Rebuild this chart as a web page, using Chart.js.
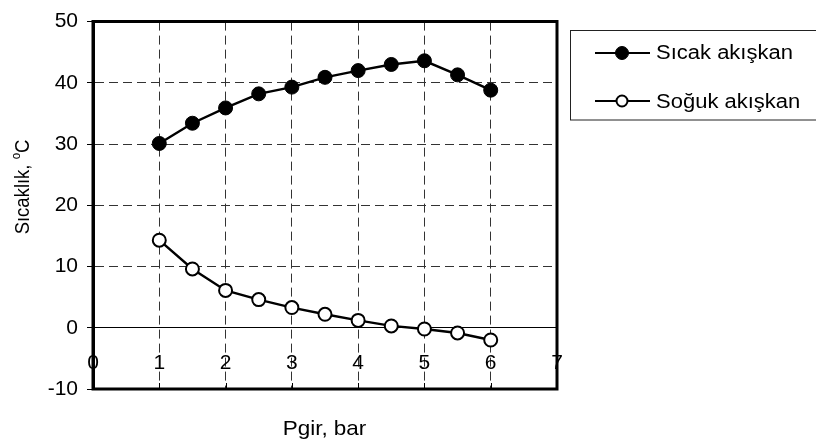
<!DOCTYPE html>
<html><head><meta charset="utf-8">
<script src="https://cdn.jsdelivr.net/npm/chart.js@4.4.0/dist/chart.umd.min.js"></script>
<style>html,body{margin:0;padding:0;background:#fff}#wrap{width:816px;height:446px;position:relative}</style>
</head><body><div id="wrap"><canvas id="c" width="816" height="446"></canvas></div>
<script>
// ---- data ----
const pressure = [1, 1.5, 2, 2.5, 3, 3.5, 4, 4.5, 5, 5.5, 6];
const hotFluid = [30.1, 33.4, 35.9, 38.2, 39.3, 40.9, 42.0, 43.0, 43.6, 41.3, 38.8];
const coldFluid = [14.3, 9.6, 6.1, 4.6, 3.3, 2.2, 1.2, 0.3, -0.2, -0.85, -2.0];
const seriesNames = ['Sıcak akışkan', 'Soğuk akışkan'];
const xTicks = [0, 1, 2, 3, 4, 5, 6, 7];
const yTicks = [-10, 0, 10, 20, 30, 40, 50];
const xTitle = 'Pgir, bar';
const yTitleMain = 'Sıcaklık, ';
const yTitleSup = 'o';
const yTitleEnd = 'C';

const FONT = '"Liberation Sans", Arial, Helvetica, sans-serif';
const STRETCH = 1.1;

const framePlugin = {
  id: 'frame',
  afterDraw(chart) {
    const ctx = chart.ctx;
    const {left, right, top, bottom} = chart.chartArea;
    const xs = chart.scales.x;
    ctx.save();
    // inward ticks on bottom border
    ctx.strokeStyle = '#000';
    ctx.lineWidth = 1;
    xTicks.forEach(v => {
      const px = Math.round(xs.getPixelForValue(v)) + 0.5;
      ctx.beginPath(); ctx.moveTo(px, bottom); ctx.lineTo(px, bottom - 6); ctx.stroke();
    });
    // frame
    ctx.lineWidth = 3;
    ctx.beginPath();
    ctx.moveTo(left, top); ctx.lineTo(right, top); ctx.lineTo(right, bottom); ctx.lineTo(left, bottom); ctx.closePath();
    ctx.stroke();

    // x title
    ctx.fillStyle = '#000';
    ctx.font = '21px ' + FONT;
    ctx.textAlign = 'center';
    ctx.textBaseline = 'alphabetic';
    ctx.save();
    ctx.translate((left + right) / 2 - 0.5, 435);
    ctx.scale(1.07, 1);
    ctx.fillText(xTitle, 0, 0);
    ctx.restore();

    // y title (rotated, with superscript o)
    ctx.save();
    ctx.translate(28.5, 187);
    ctx.rotate(-Math.PI / 2);
    ctx.scale(0.88, 1);
    ctx.textAlign = 'left';
    ctx.font = '21px ' + FONT;
    const w1 = ctx.measureText(yTitleMain).width;
    const w3 = ctx.measureText(yTitleEnd).width;
    ctx.font = '13px ' + FONT;
    const w2 = ctx.measureText(yTitleSup).width;
    const start = -(w1 + w2 + w3) / 2;
    ctx.font = '21px ' + FONT;
    ctx.fillText(yTitleMain, start, 0);
    ctx.fillText(yTitleEnd, start + w1 + w2, 0);
    ctx.font = '13px ' + FONT;
    ctx.fillText(yTitleSup, start + w1, -9);
    ctx.restore();

    // legend
    ctx.lineWidth = 1;
    ctx.strokeStyle = '#222';
    ctx.strokeRect(570.5, 30.5, 300, 89.5);
    const rows = [53, 101];
    const baselines = [59, 108];
    chart.data.datasets.forEach((ds, i) => {
      const y = rows[i];
      ctx.strokeStyle = ds.borderColor;
      ctx.lineWidth = 2.2;
      ctx.beginPath(); ctx.moveTo(595, y); ctx.lineTo(650, y); ctx.stroke();
      ctx.beginPath();
      ctx.arc(622, y, i === 0 ? 6.5 : 5.5, 0, Math.PI * 2);
      ctx.fillStyle = ds.pointBackgroundColor;
      ctx.fill();
      ctx.lineWidth = ds.pointBorderWidth;
      ctx.strokeStyle = ds.pointBorderColor;
      ctx.stroke();
      ctx.fillStyle = '#000';
      ctx.font = '20px ' + FONT;
      ctx.textAlign = 'left';
      ctx.textBaseline = 'alphabetic';
      ctx.save();
      ctx.translate(656, baselines[i]);
      ctx.scale(STRETCH, 1);
      ctx.fillText(ds.label, 0, 0);
      ctx.restore();
    });
    ctx.restore();
  }
};

new Chart(document.getElementById('c'), {
  type: 'scatter',
  data: {
    datasets: [
      {
        label: seriesNames[0],
        data: pressure.map((x, i) => ({x: x, y: hotFluid[i]})),
        showLine: true, tension: 0,
        borderColor: '#000', borderWidth: 2.4, backgroundColor: '#000',
        pointRadius: 7, pointBorderWidth: 1, pointBorderColor: '#000', pointBackgroundColor: '#000'
      },
      {
        label: seriesNames[1],
        data: pressure.map((x, i) => ({x: x, y: coldFluid[i]})),
        showLine: true, tension: 0,
        borderColor: '#000', borderWidth: 2.4, backgroundColor: '#fff',
        pointRadius: 6.5, pointBorderWidth: 2, pointBorderColor: '#000', pointBackgroundColor: '#fff'
      }
    ]
  },
  options: {
    responsive: false, animation: false, devicePixelRatio: 1,
    layout: {padding: {left: 0, right: 259, top: 14, bottom: 57}},
    plugins: {legend: {display: false}, tooltip: {enabled: false}},
    scales: {
      x: {
        type: 'linear', position: {y: 0}, min: 0, max: 7,
        afterBuildTicks: s => { s.ticks = xTicks.map(v => ({value: v})); },
        ticks: {font: {family: FONT, size: 21}, color: '#000', padding: 23, maxRotation: 0, autoSkip: false},
        grid: {color: '#333', lineWidth: 1, drawTicks: false},
        border: {color: '#000', width: 1, dash: [9, 5]}
      },
      y: {
        type: 'linear', min: -10, max: 50,
        afterBuildTicks: s => { s.ticks = yTicks.map(v => ({value: v})); },
        afterFit: s => { s.width = 93; },
        ticks: {font: {family: FONT, size: 21}, color: '#000', padding: 9},
        grid: {color: '#333', lineWidth: 1, tickColor: '#000', tickLength: 6, drawTicks: true},
        border: {color: '#000', width: 3, dash: [9, 5]}
      }
    }
  },
  plugins: [framePlugin]
});
</script>
</body></html>
